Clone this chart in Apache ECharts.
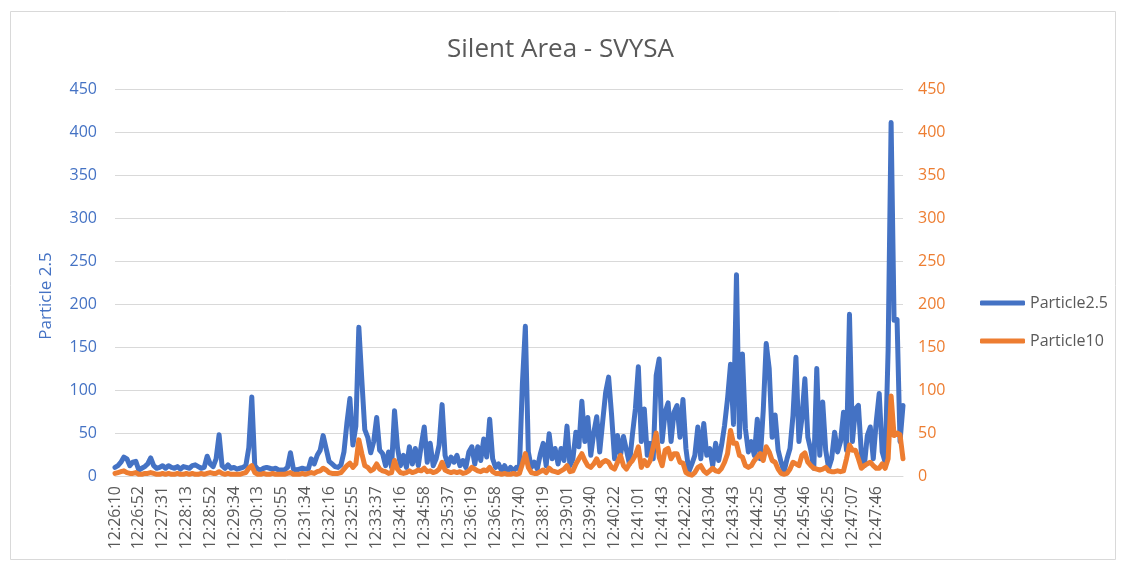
<!DOCTYPE html>
<html>
<head>
<meta charset="utf-8">
<script src="https://cdn.jsdelivr.net/npm/echarts@6/dist/echarts.min.js"></script>
<style>
html,body{margin:0;padding:0;background:#fff;}
#chart{width:1121px;height:567px;}
</style>
</head>
<body>
<div id="chart"></div>
<script>
const tickLabels = ['12:26:10','12:26:52','12:27:31','12:28:13','12:28:52','12:29:34','12:30:13','12:30:55','12:31:34','12:32:16','12:32:55','12:33:37','12:34:16','12:34:58','12:35:37','12:36:19','12:36:58','12:37:40','12:38:19','12:39:01','12:39:40','12:40:22','12:41:01','12:41:43','12:42:22','12:43:04','12:43:43','12:44:25','12:45:04','12:45:46','12:46:25','12:47:07','12:47:46'];
const pointsPerLabel = 8;
const yAxisName = 'Particle 2.5';

const particle25 = [
10,12,16,22,20,12,16,17,
7,9,11,14,21,12,9,10,
12,9,12,10,9,11,8,11,
10,9,12,13,11,9,10,23,
14,11,20,48,12,9,13,9,
10,8,9,10,12,33,92,12,
8,7,9,10,9,8,9,7,
7,7,10,27,8,7,8,9,
8,8,20,14,24,30,47,32,
17,14,11,10,13,28,62,90,
36,58,173,112,54,45,27,40,
68,30,26,12,28,10,76,33,
12,24,10,34,14,32,12,36,
57,16,38,12,20,36,83,24,
12,22,16,24,12,18,10,28,
34,14,34,18,43,22,66,20,
10,14,6,12,5,10,6,10,
8,107,174,28,10,16,8,25,
38,12,49,20,32,14,32,18,
58,12,20,51,34,87,40,68,
24,50,69,28,63,97,115,71,
20,47,24,46,30,14,48,78,
127,40,78,24,38,20,117,136,
40,74,85,40,74,82,45,89,
32,5,14,24,57,20,61,24,
32,12,38,18,36,59,90,130,
60,234,45,142,55,28,40,24,
66,20,76,154,125,45,71,30,
16,5,20,32,70,138,40,67,
113,45,30,9,125,24,86,30,
9,20,51,28,40,74,30,188,
40,78,82,26,12,47,57,20,
63,96,28,16,147,411,181,182,
40,82
];

const particle10 = [
3,4,5,6,4,3,3,4,
2,2,3,3,4,3,2,2,
3,2,3,2,2,3,2,2,
3,2,3,2,2,3,2,3,
4,3,3,5,3,2,3,2,
2,2,2,3,4,9,12,4,
2,2,3,2,2,3,2,2,
2,2,3,4,2,2,2,3,
2,3,4,3,5,6,9,7,
4,3,3,3,4,8,12,15,
10,14,42,26,12,10,6,8,
14,8,6,5,3,4,18,8,
4,3,4,6,4,5,7,6,
9,5,6,4,5,8,16,7,
5,4,5,4,5,3,4,6,
10,8,6,5,7,6,10,5,
3,3,2,3,2,2,3,2,
3,14,26,10,4,3,3,5,
7,4,9,6,5,4,6,8,
12,5,6,14,20,26,18,12,
10,14,20,12,16,18,16,10,
8,16,24,12,8,14,18,24,
34,10,18,12,18,34,50,22,
12,30,32,20,26,26,16,15,
4,2,1,4,10,12,6,3,
6,9,6,5,9,16,26,53,
38,38,24,22,12,10,12,18,
22,26,18,34,28,18,16,8,
3,2,3,8,16,14,12,24,
27,16,12,9,8,7,8,10,
6,5,5,6,5,6,20,36,
30,30,20,9,12,14,16,12,
9,9,14,9,20,93,47,50,
48,20
];

const categories = particle25.map((_, i) =>
  i % pointsPerLabel === 0 ? (tickLabels[i / pointsPerLabel] || '') : '');

const BLUE = '#4472C4', ORANGE = '#ED7D31', GRAY = '#595959', GRID = '#D9D9D9';
const FONT = '"Open Sans", "Noto Sans", sans-serif';

const chart = echarts.init(document.getElementById('chart'), null, {renderer: 'canvas'});
chart.setOption({
  animation: false,
  backgroundColor: '#fff',
  textStyle: {fontFamily: FONT},
  graphic: [{
    type: 'rect', left: 8, top: 9, silent: true,
    shape: {width: 1105, height: 548},
    style: {fill: 'none', stroke: '#D9D9D9', lineWidth: 1}
  }, {
    type: 'text', silent: true,
    x: 46, y: 296, rotation: Math.PI / 2,
    style: {text: yAxisName, fill: BLUE, font: '17px "Open Sans", "Noto Sans", sans-serif',
      align: 'center', verticalAlign: 'middle'}
  }],
  title: {
    text: 'Silent Area - SVYSA',
    left: 'center', top: 32,
    textStyle: {fontFamily: FONT, fontSize: 26, fontWeight: 'normal', color: GRAY}
  },
  legend: {
    orient: 'vertical', left: 975, top: 290,
    itemWidth: 45, itemHeight: 5, itemGap: 22,
    icon: 'roundRect',
    textStyle: {fontFamily: FONT, fontSize: 16, color: GRAY},
    data: ['Particle2.5', 'Particle10']
  },
  grid: {left: 115, right: 218, top: 89, bottom: 91, containLabel: false},
  xAxis: {
    type: 'category', data: categories, boundaryGap: false,
    axisLine: {lineStyle: {color: GRID, width: 1}},
    axisTick: {show: false},
    axisLabel: {interval: pointsPerLabel - 1, rotate: 90, margin: 10,
      fontFamily: FONT, fontSize: 16, color: GRAY}
  },
  yAxis: [{
    type: 'value', min: 0, max: 450, interval: 50,
    axisLine: {show: false}, axisTick: {show: false},
    axisLabel: {margin: 18, fontFamily: FONT, fontSize: 16, color: BLUE},
    splitLine: {lineStyle: {color: GRID, width: 1}}
  }, {
    type: 'value', min: 0, max: 450, interval: 50, position: 'right',
    axisLine: {show: false}, axisTick: {show: false},
    axisLabel: {margin: 15, fontFamily: FONT, fontSize: 16, color: ORANGE},
    splitLine: {show: false}
  }],
  series: [{
    name: 'Particle2.5', type: 'line', yAxisIndex: 0, data: particle25,
    showSymbol: false, symbol: 'none', smooth: false,
    lineStyle: {color: BLUE, width: 5, join: 'round', cap: 'round'},
    itemStyle: {color: BLUE}
  }, {
    name: 'Particle10', type: 'line', yAxisIndex: 1, data: particle10,
    showSymbol: false, symbol: 'none', smooth: false,
    lineStyle: {color: ORANGE, width: 5, join: 'round', cap: 'round'},
    itemStyle: {color: ORANGE}
  }]
});
</script>
</body>
</html>
